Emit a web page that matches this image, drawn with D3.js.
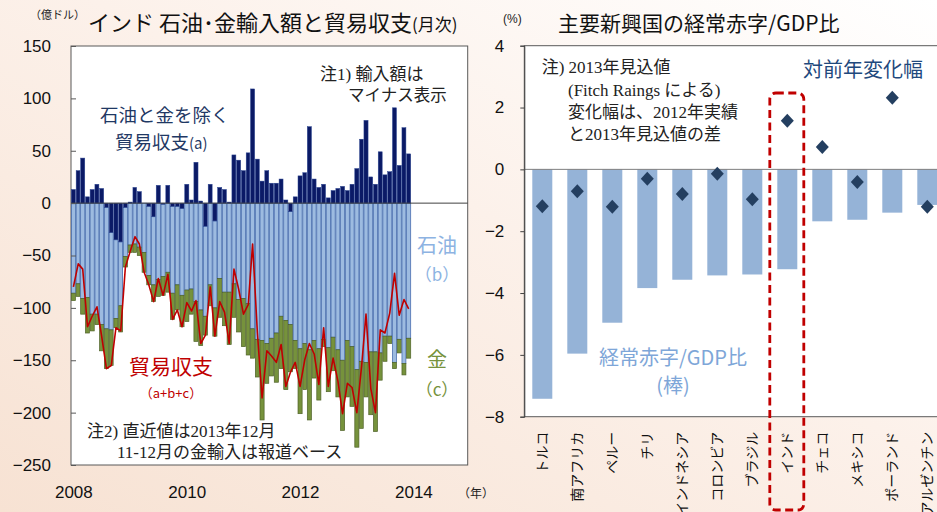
<!DOCTYPE html>
<html><head><meta charset="utf-8">
<script src="https://cdn.jsdelivr.net/npm/d3@7"></script>
<style>html,body{margin:0;padding:0;background:#fff;} svg{display:block;}</style>
</head><body>
<svg id="c" width="937" height="512"></svg>
<script>
// ---------- Left chart data (億ドル, monthly Jan 2008 – Dec 2013) ----------
const startYear = 2008;
const exOilGold = [13,31,43,6,13,18,14,-4,-28,-35, -37,-4,1,15,11,0,-3,-13,17,-1,
  17,-3,-3,-5,18,3,39,2,-22,18, -17,15,13,1,46,41,31,48,109,42,
  21,31,19,19,23,3,-8,6,26,29, 73,23,15,18,5,12,14,16,12,18,
  33,61,79,25,18,49,27,30,91,36,72,47];
const oilImports = [-86,-77,-91,-90,-106,-106,-116,-116,-93,-75, -61,-47,-40,-39,-42,-47,-66,-65,-73,-69,
  -66,-83,-75,-83,-83,-82,-94,-102,-86,-78, -83,-72,-85,-85,-77,-92,-91,-96,-120,-130,
  -131,-134,-129,-124,-108,-112,-108,-131,-139,-134, -140,-131,-139,-130,-138,-128,-140,-150,-131,-137,
  -159,-151,-152,-142,-142,-143,-127,-127,-152,-130,-153,-129];
const goldImports = [-7,-12,-15,-34,-16,-10,-25,-38,-34,-9, -25,-10,-7,-8,-8,-19,-9,-16,-16,-18,
  -19,-25,-24,-30,-30,-24,-38,-34,-18,-20, -27,-37,-32,-50,-32,-31,-46,-49,-28,-36,
  -76,-38,-36,-47,-50,-66,-45,-27,-62,-44, -67,-36,-49,-7,-42,-32,-45,-67,-54,-57,
  -74,-64,-33,-60,-76,-26,-24,-7,-6,-13,-11,-19];
const tradeBalance = [-80,-58,-63,-118,-108,-99,-127,-158,-155,-119, -122,-61,-46,-32,-39,-66,-78,-94,-72,-88,
  -68,-111,-102,-118,-95,-103,-93,-134,-126,-80, -127,-94,-104,-134,-63,-82,-106,-97,-39,-124,
  -186,-141,-146,-152,-135,-175,-161,-152,-175,-149, -134,-144,-173,-119,-175,-148,-170,-201,-172,-176,
  -200,-155,-106,-177,-200,-121,-124,-105,-67,-107,-92,-101];
const yearTicks = [2008, 2010, 2012, 2014];
const leftYTicks = [150,100,50,0,-50,-100,-150,-200,-250];

// ---------- Right chart data (%) ----------
const countries = ["トルコ","南アフリカ","ペルー","チリ","インドネシア","コロンビア","ブラジル","インド","チェコ","メキシコ","ポーランド","アルゼンチン"];
const caGdp = [-7.42,-5.96,-4.96,-3.84,-3.57,-3.43,-3.40,-3.23,-1.68,-1.63,-1.40,-1.15];
const caChange = [-1.19,-0.71,-1.21,-0.30,-0.80,-0.14,-0.97,1.57,0.72,-0.41,2.32,-1.21];
const rightYTicks = [4,2,0,-2,-4,-6,-8];
const highlight = "インド";

const JP = "'Noto Sans CJK JP', 'Noto Sans', sans-serif";
const SERIFJP = "'Liberation Serif', 'Noto Sans CJK JP', serif";
const NUM = "'Liberation Sans', 'Noto Sans CJK JP', sans-serif";

const svg = d3.select("#c");

// background
const defs = svg.append("defs");
const g0 = defs.append("linearGradient").attr("id","bg").attr("x1","1").attr("y1","0").attr("x2","0").attr("y2","1");
g0.append("stop").attr("offset","0%").attr("stop-color","#ffffff");
g0.append("stop").attr("offset","45%").attr("stop-color","#fcf1ea");
g0.append("stop").attr("offset","100%").attr("stop-color","#f7e2d3");
svg.append("rect").attr("width",937).attr("height",512).attr("fill","url(#bg)");

// ================= LEFT CHART =================
const months = d3.range(exOilGold.length).map(i => new Date(startYear, i, 1));
const x = d3.scaleTime().domain([new Date(2008,0,1), new Date(2015,0,1)]).range([71, 467.7]);
const y = d3.scaleLinear().domain([-250,150]).range([465,46]);

svg.append("rect").attr("x",71).attr("y",46).attr("width",467.7-71).attr("height",465-46)
  .attr("fill","#fff").attr("stroke","#595959").attr("stroke-width",1);

const L = svg.append("g");
months.forEach((m,i) => {
  const x0 = x(m), x1 = x(new Date(startYear, i+1, 1));
  const bx = x0 + 0.35, bw = x1 - x0 - 0.7;
  const a = exOilGold[i], neg = Math.min(a,0);
  const oilEnd = neg + oilImports[i];
  const goldEnd = oilEnd + goldImports[i];
  L.append("rect").attr("x",bx).attr("width",bw)
    .attr("y",y(neg)).attr("height",y(oilEnd)-y(neg))
    .attr("fill","#9dbbe0").attr("stroke","#3a62a7").attr("stroke-width",0.7);
  L.append("rect").attr("x",bx).attr("width",bw)
    .attr("y",y(oilEnd)).attr("height",y(goldEnd)-y(oilEnd))
    .attr("fill","#76923c").attr("stroke","#4f6228").attr("stroke-width",0.7);
  L.append("rect").attr("x",bx).attr("width",bw)
    .attr("y",y(Math.max(a,0))).attr("height",Math.abs(y(a)-y(0)))
    .attr("fill","#0b1a66").attr("stroke","#2a4490").attr("stroke-width",0.5);
});
svg.append("line").attr("x1",71).attr("x2",467.7).attr("y1",y(0)).attr("y2",y(0))
  .attr("stroke","#404040").attr("stroke-width",1);

const halfM = (x(new Date(2008,1,1)) - x(new Date(2008,0,1)))/2;
svg.append("path").datum(tradeBalance)
  .attr("d", d3.line().x((d,i)=>x(months[i])+halfM).y(d=>y(d)))
  .attr("fill","none").attr("stroke","#c00000").attr("stroke-width",1.6).attr("stroke-linejoin","round");

// axes
const ly = svg.append("g").attr("transform","translate(71,0)")
  .call(d3.axisLeft(y).tickValues(leftYTicks).tickSize(-5).tickPadding(20));
ly.select(".domain").remove();
ly.selectAll("line").attr("stroke","#595959");
ly.selectAll("text").style("font-family",NUM).style("font-size","17px").attr("fill","#111");

const lx = svg.append("g").attr("transform","translate(0,465)")
  .call(d3.axisBottom(x).tickValues(yearTicks.map(yr=>new Date(yr,0,16)))
    .tickFormat(d3.timeFormat("%Y")).tickSize(0).tickPadding(21));
lx.select(".domain").remove();
lx.selectAll("text").style("font-family",NUM).style("font-size","17px").attr("fill","#111");

function txt(xp, yp, s, size, color, fam, anchor){
  return svg.append("text").attr("x",xp).attr("y",yp).text(s)
    .style("font-family",fam||JP).style("font-size",size+"px").attr("fill",color||"#111")
    .attr("text-anchor",anchor||"start");
}
txt(458,498,"（年）",12,"#222");
txt(30,19,"（億ドル）",11,"#222");
const t1 = svg.append("text").attr("x",88).attr("y",31).style("font-family",JP).attr("fill","#111");
t1.append("tspan").text("インド 石油･金輸入額と貿易収支").style("font-size","22px");
t1.append("tspan").text("(月次)").style("font-size","17px");

txt(320,80,"注1) 輸入額は",17,"#222",SERIFJP);
txt(348,101,"マイナス表示",16.5,"#222",SERIFJP);
txt(100,122,"石油と金を除く",18.5,"#1f3864");
const t2 = svg.append("text").attr("x",115).attr("y",149).style("font-family",JP).attr("fill","#1f3864");
t2.append("tspan").text("貿易収支").style("font-size","18.5px");
t2.append("tspan").text("(a)").style("font-size","15px");
txt(437,253,"石油",20,"#8db3e2",JP,"middle");
txt(437,281,"（b）",17,"#8db3e2",JP,"middle");
txt(437,367,"金",20,"#76923c",JP,"middle");
txt(437,396,"（c）",17,"#76923c",JP,"middle");
txt(171,374,"貿易収支",21,"#c00000",JP,"middle");
txt(171,398,"（a+b+c）",13,"#c00000",JP,"middle");
txt(87,437,"注2) 直近値は2013年12月",17,"#222",SERIFJP);
txt(117,458,"11-12月の金輸入は報道ベース",17,"#222",SERIFJP);

// ================= RIGHT CHART =================
const xr = d3.scaleBand().domain(countries).range([524.8, 944.8]).paddingInner(0.4286).paddingOuter(0.2143);
const yr = d3.scaleLinear().domain([-8,4]).range([416.7,45.7]);

svg.append("rect").attr("x",524.3).attr("y",45.7).attr("width",430).attr("height",416.7-45.7)
  .attr("fill","#fff").attr("stroke","#595959").attr("stroke-width",1);

svg.append("g").selectAll("rect").data(countries).join("rect")
  .attr("x",d=>xr(d)).attr("width",xr.bandwidth())
  .attr("y",(d,i)=>yr(Math.max(0,caGdp[i])))
  .attr("height",(d,i)=>Math.abs(yr(caGdp[i])-yr(0)))
  .attr("fill","#95b3d7");

svg.append("line").attr("x1",524.3).attr("x2",937).attr("y1",yr(0)).attr("y2",yr(0))
  .attr("stroke","#7f7f7f").attr("stroke-width",1);

svg.append("g").selectAll("path").data(countries).join("path")
  .attr("d",(d,i)=>{
    const cx = xr(d)+xr.bandwidth()/2, cy = yr(caChange[i]);
    return `M${cx},${cy-7}L${cx+6.5},${cy}L${cx},${cy+7}L${cx-6.5},${cy}Z`;
  })
  .attr("fill","#243f60");

// highlight box
svg.append("rect").attr("x",xr(highlight)-7.5).attr("y",93).attr("width",xr.bandwidth()+14)
  .attr("height",417).attr("rx",6).attr("fill","none")
  .attr("stroke","#c00000").attr("stroke-width",2.8).attr("stroke-dasharray","8,4.5");

const ry = svg.append("g").attr("transform","translate(524.3,0)")
  .call(d3.axisLeft(yr).tickValues(rightYTicks).tickSize(4).tickPadding(16));
ry.select(".domain").attr("stroke","#404040");
ry.selectAll("line").attr("stroke","#404040");
ry.selectAll("text").style("font-family",NUM).style("font-size","17px").attr("fill","#111");

const rx = svg.append("g").attr("transform","translate(0,416.7)")
  .call(d3.axisBottom(xr).tickSize(0));
rx.select(".domain").remove();
rx.selectAll("text").attr("transform","rotate(-90)").attr("x",-15).attr("y",0).attr("dy","0.36em")
  .style("text-anchor","end").style("font-family",JP).style("font-size","14px").attr("fill","#111");

txt(503,23,"(%)",12,"#222",NUM);
txt(558,31,"主要新興国の経常赤字/GDP比",21,"#111");
txt(541.7,73,"注) 2013年見込値",17,"#222",SERIFJP);
txt(568,96,"(Fitch Raings による)",17,"#222",SERIFJP);
txt(568,118,"変化幅は、2012年実績",17,"#222",SERIFJP);
txt(568,140,"と2013年見込値の差",17,"#222",SERIFJP);
txt(803,77,"対前年変化幅",20,"#1f497d");
txt(673,365,"経常赤字/GDP比",20,"#7ea6d8",JP,"middle");
txt(673,393,"(棒)",20,"#7ea6d8",JP,"middle");
</script>
</body></html>
